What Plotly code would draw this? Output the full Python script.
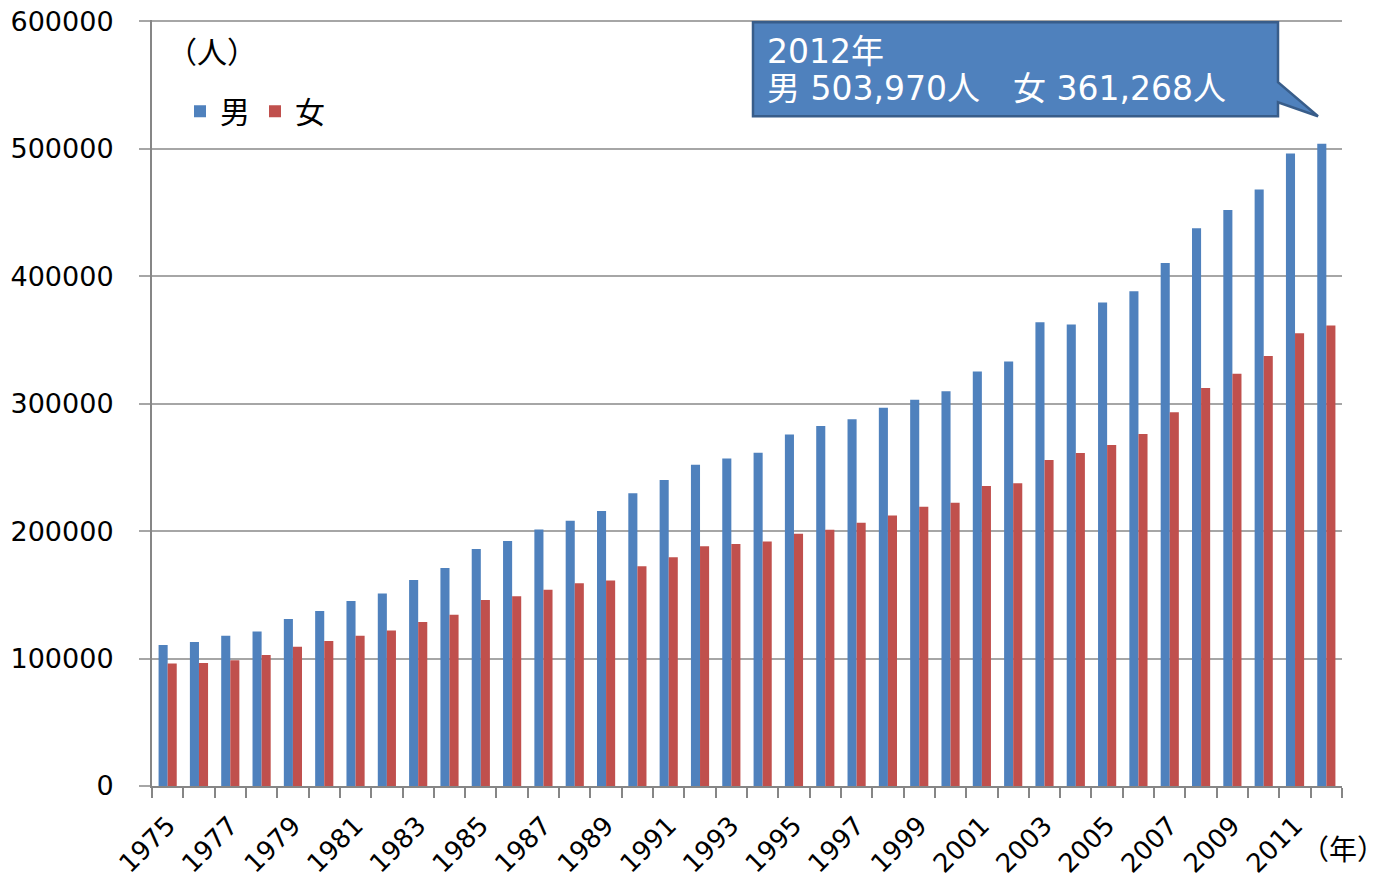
import plotly.graph_objects as go

years = list(range(1975, 2013))
male = [110600, 112900, 117900, 121300, 131000, 137300, 145100, 151100, 161600, 171000,
        185900, 192200, 201300, 208100, 215700, 229600, 240000, 252000, 257000, 261400,
        275800, 282400, 287800, 296700, 303000, 309800, 325200, 333100, 363900, 362100,
        379400, 388200, 410400, 437600, 452000, 468000, 496200, 503970]
female = [96200, 96500, 98600, 102700, 109300, 113700, 117900, 122100, 128600, 134400,
          145900, 148800, 154000, 159000, 161300, 172500, 179400, 188200, 189800, 191900,
          197900, 201000, 206500, 212300, 219100, 222200, 235300, 237600, 255700, 261200,
          267500, 276100, 293300, 312200, 323400, 337300, 355300, 361268]
tick_years = list(range(1975, 2012, 2))
y_ticks = [0, 100000, 200000, 300000, 400000, 500000, 600000]
Y_MAX = 600000
Y_TOP = 601000  # small headroom so the 600000 tick and grid line are drawn

BLUE = "#4F81BD"
RED = "#C0504D"
GRID = "#A6A6A6"
AXIS = "#868686"
FONT = "DejaVu Sans, Noto Sans CJK JP, sans-serif"
CJK = "Noto Sans CJK JP"

OFF = 8  # body margin of the page
W, H = 1389 - OFF, 879 - OFF
# plot area in page pixels (600000 sits at y=21, 0 at y=786)
L, R, B = 152, 1342, 786
Y21 = 21
T = B - (B - Y21) * Y_TOP / Y_MAX

def px(x):
    return (x - L) / (R - L)

def py(y):
    return (B - y) / (B - T)

fig = go.Figure()
fig.add_trace(go.Bar(x=years, y=male, name="男", marker=dict(color=BLUE, line=dict(width=0))))
fig.add_trace(go.Bar(x=years, y=female, name="女", marker=dict(color=RED, line=dict(width=0))))

fig.update_layout(
    width=W, height=H,
    margin=dict(l=L - OFF, r=1389 - R, t=T - OFF, b=879 - B, autoexpand=False),
    paper_bgcolor="white", plot_bgcolor="white",
    barmode="group", bargap=0.42, bargroupgap=0,
    font=dict(family=FONT, size=24, color="black"),
    showlegend=True,
    legend=dict(orientation="h", x=px(180), y=py(111), xanchor="left", yanchor="middle",
                font=dict(size=30, family=CJK), bgcolor="rgba(0,0,0,0)",
                itemwidth=30, traceorder="normal"),
    xaxis=dict(
        range=[1974.5, 2012.5], tickmode="array", tickvals=tick_years,
        ticktext=[str(y) for y in tick_years], tickangle=-45, ticks="",
        tickfont=dict(size=26), showgrid=False, zeroline=False,
        showline=True, linecolor=AXIS, linewidth=2, ticklabelstandoff=12,
        ticklabeloverflow="allow",
        minor=dict(tick0=1974.5, dtick=1, ticks="outside", ticklen=10,
                   tickcolor=AXIS, tickwidth=1.5, showgrid=False),
    ),
    yaxis=dict(
        range=[0, Y_TOP], tickmode="array", tickvals=y_ticks,
        ticktext=[str(v) for v in y_ticks], tickfont=dict(size=27),
        showgrid=True, gridcolor=GRID, gridwidth=1.5, zeroline=False,
        showline=True, linecolor=AXIS, linewidth=2, ticklabelstandoff=20,
        ticklabeloverflow="allow",
        ticks="outside", ticklen=11, tickcolor=GRID, tickwidth=1.5,
    ),
)

# callout box with tail
pts = [(753, 22), (1278, 22), (1278, 82), (1318, 116), (1278, 102), (1278, 116), (753, 116)]
path = "M " + " L ".join(f"{px(x):.5f},{py(y):.5f}" for x, y in pts) + " Z"
fig.add_shape(type="path", path=path, xref="paper", yref="paper",
              fillcolor=BLUE, line=dict(color="#385D8A", width=2.5), layer="above")

fig.add_annotation(x=px(765), y=py(51), xref="paper", yref="paper", xanchor="left", yanchor="middle",
                   text="2012年", showarrow=False,
                   font=dict(size=33, color="white", family=FONT))
fig.add_annotation(x=px(765), y=py(88), xref="paper", yref="paper", xanchor="left", yanchor="middle",
                   text="男 503,970人　女 361,268人", showarrow=False,
                   font=dict(size=33, color="white", family=FONT))

fig.add_annotation(x=px(212), y=py(50), xref="paper", yref="paper", xanchor="center", yanchor="middle",
                   text="（人）", showarrow=False, font=dict(size=30, family=CJK))
fig.add_annotation(x=px(1343), y=py(848), xref="paper", yref="paper", xanchor="center", yanchor="middle",
                   text="（年）", showarrow=False, font=dict(size=28, family=CJK))

fig.write_html("out.html")
